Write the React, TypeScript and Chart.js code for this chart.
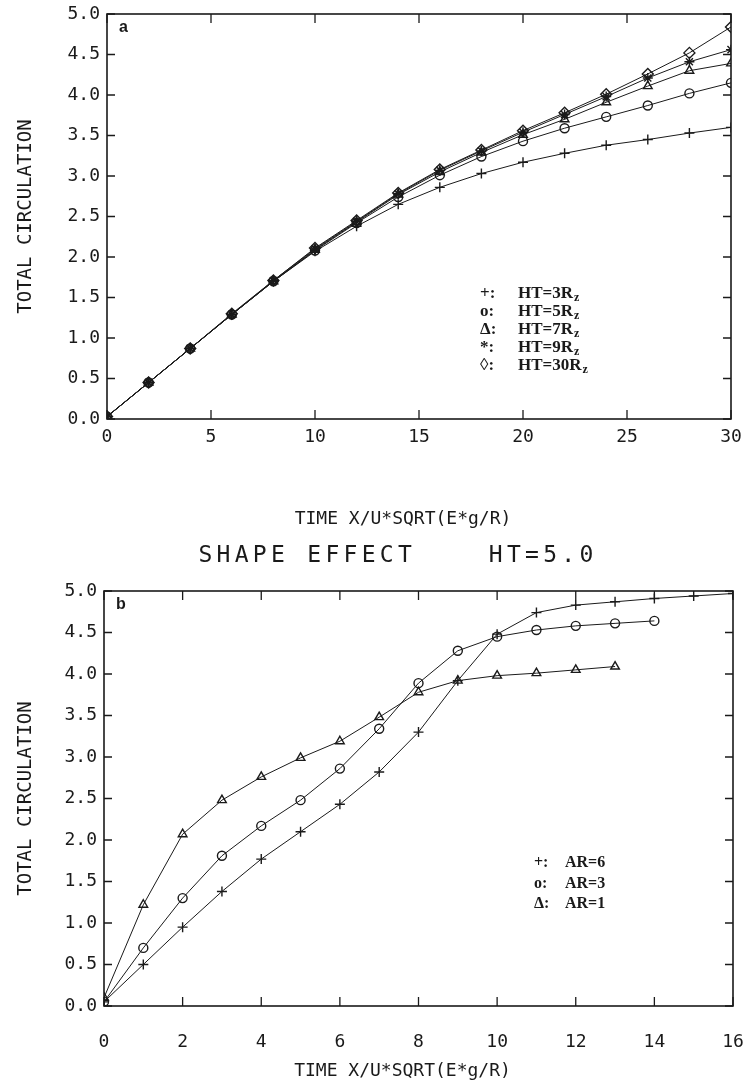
import React, { useEffect, useRef } from "react";
import { Chart, registerables } from "chart.js";
Chart.register(...registerables);

// ---------- Panel a data ----------
const timeA = [0, 2, 4, 6, 8, 10, 12, 14, 16, 18, 20, 22, 24, 26, 28, 30];
const ht3 = [0.03, 0.45, 0.87, 1.29, 1.70, 2.07, 2.38, 2.65, 2.86, 3.03, 3.17, 3.28, 3.38, 3.45, 3.53, 3.60];
const ht5 = [0.03, 0.45, 0.87, 1.29, 1.70, 2.08, 2.42, 2.74, 3.01, 3.24, 3.43, 3.59, 3.73, 3.87, 4.02, 4.15];
const ht7 = [0.03, 0.45, 0.87, 1.29, 1.70, 2.09, 2.43, 2.77, 3.05, 3.29, 3.51, 3.70, 3.91, 4.11, 4.30, 4.39];
const ht9 = [0.03, 0.45, 0.87, 1.29, 1.71, 2.10, 2.44, 2.78, 3.07, 3.31, 3.54, 3.76, 3.98, 4.21, 4.41, 4.56];
const ht30 = [0.03, 0.45, 0.87, 1.30, 1.71, 2.11, 2.45, 2.79, 3.08, 3.32, 3.56, 3.78, 4.01, 4.26, 4.52, 4.84];
const legendSymbolsA = ["+:", "o:", "Δ:", "*:", "◊:"];
const legendLabelsA = ["HT=3R", "HT=5R", "HT=7R", "HT=9R", "HT=30R"];

// ---------- Panel b data ----------
const timeB = [0, 1, 2, 3, 4, 5, 6, 7, 8, 9, 10, 11, 12, 13, 14, 15, 16];
const ar6 = [0.05, 0.50, 0.95, 1.38, 1.77, 2.10, 2.43, 2.82, 3.30, 3.92, 4.48, 4.74, 4.83, 4.87, 4.91, 4.94, 4.97];
const ar3 = [0.05, 0.70, 1.30, 1.81, 2.17, 2.48, 2.86, 3.34, 3.89, 4.28, 4.45, 4.53, 4.58, 4.61, 4.64];
const ar1 = [0.10, 1.22, 2.07, 2.48, 2.76, 2.99, 3.19, 3.48, 3.78, 3.92, 3.98, 4.01, 4.05, 4.09];
const legendSymbolsB = ["+:", "o:", "Δ:"];
const legendLabelsB = ["AR=6", "AR=3", "AR=1"];

const yTicksLabel = (v: any) => Number(v).toFixed(1);
const xTitle = "TIME X/U*SQRT(E*g/R)";
const yTitle = "TOTAL CIRCULATION";
const pageTitle = "SHAPE EFFECT    HT=5.0";

const INK = "#1a1a1a";
const MONO = "'DejaVu Sans Mono', monospace";

function pts(xs: number[], ys: number[]) {
  return ys.map((y, i) => ({ x: xs[i], y }));
}

function ds(label: string, data: any[], style: string, radius: number) {
  return {
    label,
    data,
    borderColor: INK,
    borderWidth: 1,
    pointStyle: style,
    pointRadius: radius,
    pointBorderColor: INK,
    pointBackgroundColor: "rgba(0,0,0,0)",
    pointBorderWidth: 1.4,
    tension: 0,
    fill: false,
  };
}

function deco(panel: string, symbols: string[], labels: string[], sub: boolean, symDx: number, txtDx: number, dy: number, gap: number, fontSize: number, titleDy: number) {
  return {
    id: "deco" + panel,
    afterDraw(chart: any) {
      const { ctx, chartArea: a, scales } = chart;
      const xs = scales.x;
      const ys = scales.y;
      ctx.save();
      ctx.strokeStyle = INK;
      ctx.lineWidth = 1.6;
      ctx.strokeRect(a.left, a.top, a.right - a.left, a.bottom - a.top);
      ctx.lineWidth = 1.3;
      ctx.beginPath();
      xs.ticks.forEach((t: any) => {
        const px = xs.getPixelForValue(t.value);
        ctx.moveTo(px, a.bottom);
        ctx.lineTo(px, a.bottom - 9);
        ctx.moveTo(px, a.top);
        ctx.lineTo(px, a.top + 9);
      });
      ys.ticks.forEach((t: any) => {
        const py = ys.getPixelForValue(t.value);
        ctx.moveTo(a.left, py);
        ctx.lineTo(a.left + 8, py);
        ctx.moveTo(a.right, py);
        ctx.lineTo(a.right - 8, py);
      });
      ctx.stroke();
      ctx.fillStyle = INK;
      // x-axis title (slightly left of plot centre, as in the original)
      ctx.textAlign = "center";
      ctx.textBaseline = "middle";
      ctx.font = "18px " + MONO;
      ctx.fillText(xTitle, (a.left + a.right) / 2 - 16, a.bottom + titleDy);
      ctx.textBaseline = "alphabetic";
      ctx.textAlign = "left";
      ctx.font = "bold 16px 'Liberation Sans', sans-serif";
      ctx.fillText(panel, a.left + 12, a.top + 18);
      symbols.forEach((s, i) => {
        const y = a.top + dy + i * gap;
        ctx.font = "bold " + fontSize + "px 'Liberation Serif', serif";
        ctx.fillText(s, a.left + symDx, y);
        ctx.fillText(labels[i], a.left + txtDx, y);
        if (sub) {
          const w = ctx.measureText(labels[i]).width;
          ctx.font = "bold 12px 'Liberation Serif', serif";
          ctx.fillText("z", a.left + txtDx + w + 1, y + 3);
        }
      });
      ctx.restore();
    },
  };
}

function axes(xMax: number, xStep: number, yWidth: number, xHeight: number, xTickPad: number) {
  const font = { family: MONO, size: 18 };
  return {
    x: {
      type: "linear",
      min: 0,
      max: xMax,
      ticks: { stepSize: xStep, font, color: INK, padding: xTickPad, maxRotation: 0 },
      grid: { display: false, drawTicks: false },
      border: { display: false },
      title: { display: false, text: xTitle },
      afterFit(s: any) {
        s.height = xHeight;
        s.paddingLeft = 0;
        s.paddingRight = 0;
      },
    },
    y: {
      min: 0,
      max: 5,
      ticks: { stepSize: 0.5, callback: yTicksLabel, font, color: INK, padding: 7 },
      grid: { display: false, drawTicks: false },
      border: { display: false },
      title: { display: true, text: yTitle, font: { family: MONO, size: 19 }, color: INK, padding: { top: 15, bottom: 0 } },
      afterFit(s: any) {
        s.width = yWidth;
        s.paddingTop = 0;
        s.paddingBottom = 0;
      },
    },
  };
}

export default function App() {
  const refA = useRef<HTMLCanvasElement>(null);
  const refB = useRef<HTMLCanvasElement>(null);

  useEffect(() => {
    const chartA = new Chart(refA.current as HTMLCanvasElement, {
      type: "line",
      data: {
        datasets: [
          ds("HT=3Rz", pts(timeA, ht3), "cross", 5),
          ds("HT=5Rz", pts(timeA, ht5), "circle", 4.5),
          ds("HT=7Rz", pts(timeA, ht7), "triangle", 5),
          ds("HT=9Rz", pts(timeA, ht9), "star", 5),
          ds("HT=30Rz", pts(timeA, ht30), "rectRot", 5.5),
        ] as any,
      },
      options: {
        responsive: false,
        animation: false,
        layout: { padding: { top: 14, right: 16, bottom: 0, left: 0 } },
        plugins: { legend: { display: false }, tooltip: { enabled: false }, title: { display: false } },
        scales: axes(30, 5, 107, 126, 8) as any,
      },
      plugins: [deco("a", legendSymbolsA, legendLabelsA, true, 373, 411, 284, 18, 17, 100)],
    });
    const chartB = new Chart(refB.current as HTMLCanvasElement, {
      type: "line",
      data: {
        datasets: [
          ds("AR=6", pts(timeB, ar6), "cross", 5),
          ds("AR=3", pts(timeB, ar3), "circle", 4.5),
          ds("AR=1", pts(timeB, ar1), "triangle", 5),
        ] as any,
      },
      options: {
        responsive: false,
        animation: false,
        layout: { padding: { top: 46, right: 14, bottom: 0, left: 0 } },
        plugins: { legend: { display: false }, tooltip: { enabled: false }, title: { display: false } },
        scales: axes(16, 2, 104, 79, 26) as any,
      },
      plugins: [deco("b", legendSymbolsB, legendLabelsB, false, 430, 461, 276, 20.5, 16, 65)],
    });
    return () => {
      chartA.destroy();
      chartB.destroy();
    };
  }, []);

  return (
    <div style={{ position: "absolute", left: 0, top: 0, width: 747, height: 1085, background: "#fff" }}>
      <canvas ref={refA} width={747} height={545} style={{ position: "absolute", left: 0, top: 0 }} />
      <canvas ref={refB} width={747} height={540} style={{ position: "absolute", left: 0, top: 545 }} />
      <div
        style={{
          position: "absolute",
          left: 0,
          top: 539,
          width: 796,
          textAlign: "center",
          whiteSpace: "pre",
          fontFamily: MONO,
          fontSize: 23,
          letterSpacing: 4.3,
          color: INK,
          lineHeight: "30px",
        }}
      >
        {pageTitle}
      </div>
    </div>
  );
}
